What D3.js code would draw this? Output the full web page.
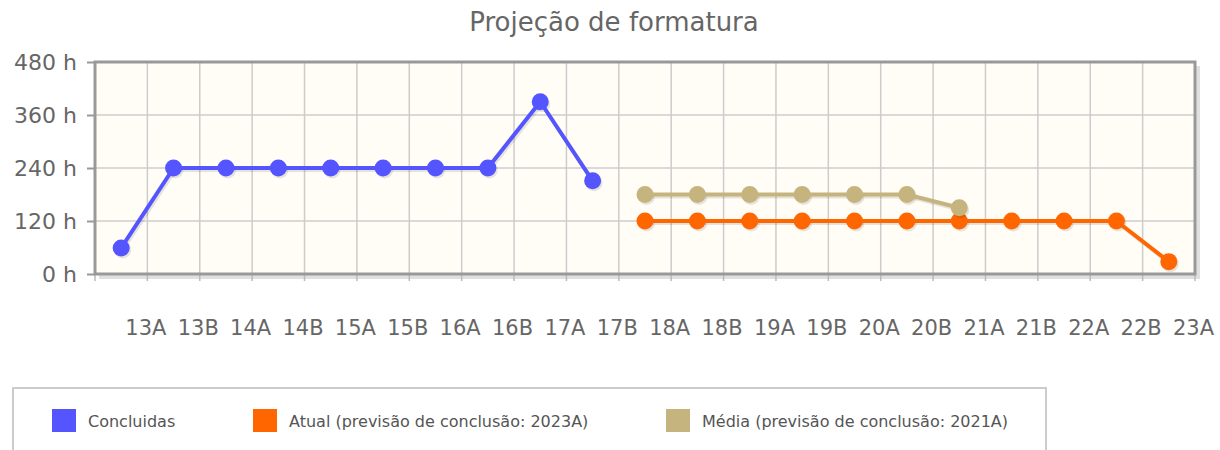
<!DOCTYPE html>
<html>
<head>
<meta charset="utf-8">
<script src="https://cdn.jsdelivr.net/npm/d3@7"></script>
<style>
  body { margin: 0; background: #fff; }
  svg { display: block; font-family: "DejaVu Sans", Verdana, sans-serif; }
</style>
</head>
<body>
<svg id="chart" width="1220" height="450"></svg>
<script>
// períodos (eixo x)
const periods = ['13A','13B','14A','14B','15A','15B','16A','16B','17A','17B',
                 '18A','18B','19A','19B','20A','20B','21A','21B','22A','22B','23A'];
const yTicks = [0, 120, 240, 360, 480];

// horas por período
const concluidasPeriods = ['13A','13B','14A','14B','15A','15B','16A','16B','17A','17B'];
const concluidasValues  = [59, 240, 240, 240, 240, 240, 240, 240, 390, 211];

const atualPeriods = ['18A','18B','19A','19B','20A','20B','21A','21B','22A','22B','23A'];
const atualValues  = [120, 120, 120, 120, 120, 120, 120, 120, 120, 120, 28];

const mediaPeriods = ['18A','18B','19A','19B','20A','20B','21A'];
const mediaValues  = [180, 180, 180, 180, 180, 180, 150];

const seriesList = [
  { name: 'Concluidas', color: '#5555ff', periods: concluidasPeriods, values: concluidasValues },
  { name: 'Atual (previsão de conclusão: 2023A)', color: '#ff6600', periods: atualPeriods, values: atualValues },
  { name: 'Média (previsão de conclusão: 2021A)', color: '#c6b47f', periods: mediaPeriods, values: mediaValues }
];

const svg = d3.select('#chart');
const pL = 95, pR = 1195, pT = 62, pB = 274;

const x = d3.scaleBand().domain(periods).range([pL, pR]).padding(0);
const bw = x.bandwidth();
const y = d3.scaleLinear().domain([0, 480]).range([pB, pT]);

// título
svg.append('text')
  .attr('x', 614).attr('y', 31)
  .attr('text-anchor', 'middle')
  .attr('font-size', 26)
  .attr('fill', '#666')
  .text('Projeção de formatura');

// sombra da moldura
svg.append('path')
  .attr('d', `M${pR + 3},${pT + 4} V${pB + 3} H${pL + 4}`)
  .attr('fill', 'none')
  .attr('stroke', 'rgba(0,0,0,0.12)')
  .attr('stroke-width', 4);

// fundo
svg.append('rect')
  .attr('x', pL).attr('y', pT)
  .attr('width', pR - pL).attr('height', pB - pT)
  .attr('fill', '#fffdf6');

// grade vertical
svg.append('g').selectAll('line')
  .data(periods.slice(0, -1))
  .enter().append('line')
  .attr('x1', d => x(d) + bw).attr('x2', d => x(d) + bw)
  .attr('y1', pT).attr('y2', pB)
  .attr('stroke', '#cccccc').attr('stroke-width', 1.5);

// grade horizontal
svg.append('g').selectAll('line')
  .data(yTicks.slice(1, -1))
  .enter().append('line')
  .attr('x1', pL).attr('x2', pR)
  .attr('y1', d => y(d)).attr('y2', d => y(d))
  .attr('stroke', '#cccccc').attr('stroke-width', 1.5);

// marcas do eixo x (abaixo da moldura)
svg.append('g').selectAll('line')
  .data([pL].concat(periods.map(p => x(p) + bw)))
  .enter().append('line')
  .attr('x1', d => d).attr('x2', d => d)
  .attr('y1', pB).attr('y2', pB + 7)
  .attr('stroke', '#bbb').attr('stroke-width', 1.5);

// eixo y
const yAxis = svg.append('g')
  .attr('transform', `translate(${pL},0)`)
  .call(d3.axisLeft(y).tickValues(yTicks).tickSize(8).tickPadding(10)
    .tickFormat(d => d + ' h'));
yAxis.select('.domain').remove();
yAxis.selectAll('line').attr('stroke', '#999').attr('stroke-width', 2);
yAxis.selectAll('text')
  .attr('font-size', 22).attr('fill', '#666')
  .attr('font-family', '"DejaVu Sans", Verdana, sans-serif')
  .attr('dy', '0.36em');

// rótulos do eixo x (centrados nas linhas da grade)
const xLab = d3.scalePoint().domain(periods).range([pL + bw, pR]);
const xAxis = svg.append('g')
  .attr('transform', `translate(-2,${pB})`)
  .call(d3.axisBottom(xLab).tickSize(0).tickPadding(46));
xAxis.select('.domain').remove();
xAxis.selectAll('text')
  .attr('font-size', 21).attr('fill', '#666')
  .attr('font-family', '"DejaVu Sans", Verdana, sans-serif');

// moldura
svg.append('rect')
  .attr('x', pL).attr('y', pT)
  .attr('width', pR - pL).attr('height', pB - pT)
  .attr('fill', 'none')
  .attr('stroke', '#999').attr('stroke-width', 3);

// séries
const line = d3.line()
  .x(d => x(d.p) + bw / 2)
  .y(d => y(d.v));

seriesList.forEach(s => {
  const pts = s.periods.map((p, i) => ({ p: p, v: s.values[i] }));
  const g = svg.append('g');

  // sombra
  g.append('path')
    .datum(pts)
    .attr('d', line)
    .attr('transform', 'translate(1.5,2)')
    .attr('fill', 'none')
    .attr('stroke', 'rgba(0,0,0,0.10)')
    .attr('stroke-width', 4)
    .attr('stroke-linejoin', 'round');
  g.selectAll('circle.sh')
    .data(pts)
    .enter().append('circle')
    .attr('class', 'sh')
    .attr('cx', d => x(d.p) + bw / 2 + 1.5)
    .attr('cy', d => y(d.v) + 2)
    .attr('r', 8.5)
    .attr('fill', 'rgba(0,0,0,0.10)');

  g.append('path')
    .datum(pts)
    .attr('d', line)
    .attr('fill', 'none')
    .attr('stroke', s.color)
    .attr('stroke-width', 4)
    .attr('stroke-linejoin', 'round');

  g.selectAll('circle.pt')
    .data(pts)
    .enter().append('circle')
    .attr('class', 'pt')
    .attr('cx', d => x(d.p) + bw / 2)
    .attr('cy', d => y(d.v))
    .attr('r', 8.5)
    .attr('fill', s.color);
});

// legenda
svg.append('rect')
  .attr('x', 13).attr('y', 388)
  .attr('width', 1033).attr('height', 80)
  .attr('fill', '#fff')
  .attr('stroke', '#cccccc').attr('stroke-width', 2);

const legendX = [52, 253, 666];
const items = svg.append('g').selectAll('g')
  .data(seriesList)
  .enter().append('g')
  .attr('transform', (d, i) => `translate(${legendX[i]},409)`);

items.append('rect')
  .attr('width', 24).attr('height', 23)
  .attr('fill', d => d.color);

items.append('text')
  .attr('x', 36).attr('y', 12)
  .attr('dy', '0.35em')
  .attr('font-size', 16)
  .attr('fill', '#555')
  .text(d => d.name);
</script>
</body>
</html>
